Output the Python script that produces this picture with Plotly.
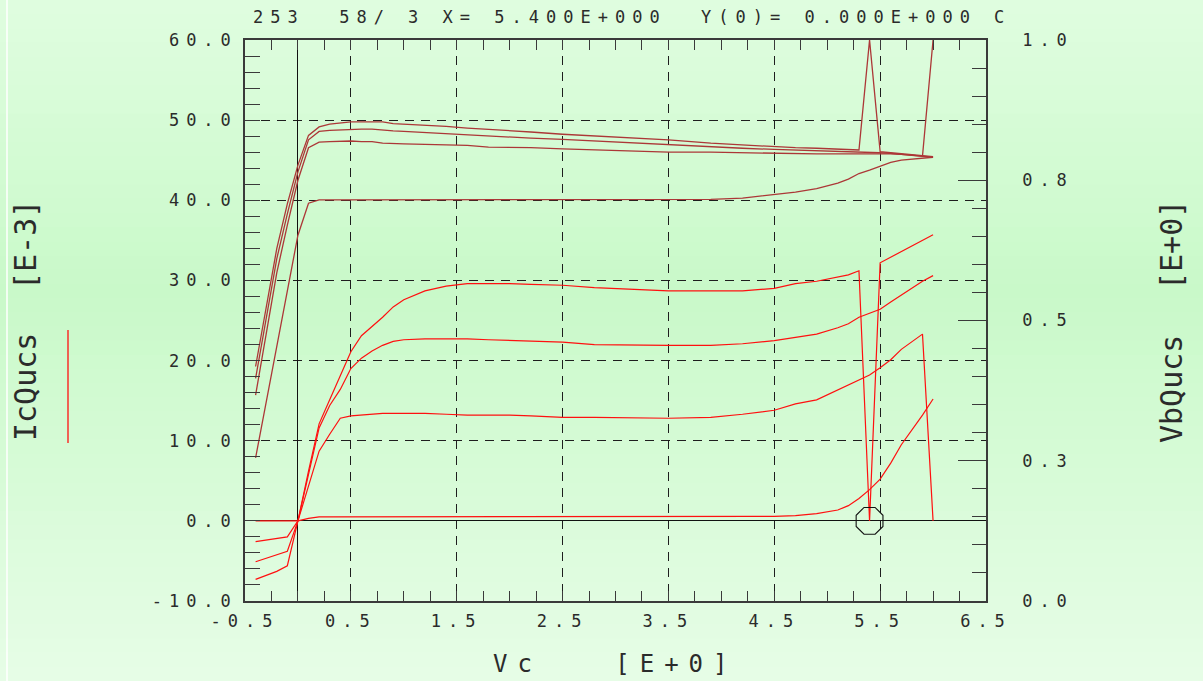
import plotly.graph_objects as go

# ---------------- data ----------------
vc = [-0.4, -0.2, -0.1, 0.0, 0.1, 0.2, 0.3, 0.4, 0.5, 0.6, 0.7, 0.8, 0.9, 1.0,
      1.2, 1.4, 1.6, 1.8, 2.0, 2.2, 2.5, 2.8, 3.2, 3.5, 3.9, 4.2,
      4.5, 4.7, 4.9, 5.1, 5.2, 5.3, 5.4, 5.5, 5.6, 5.7, 5.8, 5.9, 6.0]

# collector currents [mA] (left axis)
ic_0 = [0.0, 0.0, 0.0, 0.0, 0.3, 0.5, 0.5, 0.5, 0.5, 0.5, 0.5, 0.5, 0.5, 0.5,
        0.5, 0.5, 0.5, 0.5, 0.5, 0.5, 0.5, 0.5, 0.5, 0.5, 0.5, 0.5,
        0.55, 0.65, 0.9, 1.35, 1.9, 2.8, 3.9, 5.2, 7.2, 9.5, 11.3, 13.2, 15.2]
ic_1 = [-2.6, -2.2, -2.0, 0.0, 4.3, 8.7, 10.8, 12.8, 13.1, 13.2, 13.3, 13.4, 13.4, 13.4,
        13.4, 13.3, 13.2, 13.2, 13.2, 13.1, 12.9, 12.9, 12.8, 12.8, 12.9, 13.3,
        13.8, 14.6, 15.1, 16.3, 16.9, 17.6, 18.2, 19.1, 20.1, 21.4, 22.3, 23.3, 0.0]
ic_2 = [-5.1, -4.2, -3.8, 0.0, 6.0, 11.6, 14.4, 16.4, 19.0, 20.3, 21.2, 21.9, 22.4, 22.6,
        22.7, 22.7, 22.7, 22.6, 22.5, 22.4, 22.3, 22.0, 21.9, 21.9, 21.9, 22.1,
        22.5, 22.9, 23.3, 24.1, 24.6, 25.4, 25.9, 26.4, 27.3, 28.2, 29.1, 29.9, 30.6]
ic_3 = [-7.3, -6.3, -5.6, 0.0, 6.2, 12.1, 15.1, 18.2, 21.1, 23.1, 24.2, 25.4, 26.7, 27.6,
        28.7, 29.3, 29.6, 29.6, 29.6, 29.5, 29.4, 29.1, 28.9, 28.7, 28.7, 28.7,
        29.0, 29.6, 29.9, 30.4, 30.7, 31.2, 0.0, 32.2, 32.9, 33.5, 34.2, 34.9, 35.7]

# base voltages [V] (right axis)
vb_0 = [0.255, 0.455, 0.555, 0.652, 0.709, 0.715, 0.715, 0.715, 0.715, 0.715, 0.715, 0.715, 0.715, 0.715,
        0.715, 0.715, 0.715, 0.715, 0.715, 0.715, 0.715, 0.715, 0.715, 0.715, 0.716, 0.718,
        0.724, 0.729, 0.735, 0.745, 0.752, 0.762, 0.768, 0.775, 0.782, 0.786, 0.788, 0.790, 0.791]
vb_1 = [0.367, 0.585, 0.670, 0.750, 0.808, 0.818, 0.819, 0.820, 0.820, 0.819, 0.819, 0.816, 0.816, 0.815,
        0.814, 0.813, 0.812, 0.809, 0.809, 0.808, 0.806, 0.804, 0.802, 0.800, 0.800, 0.799,
        0.797, 0.797, 0.797, 0.797, 0.797, 0.797, 0.797, 0.798, 0.797, 0.796, 0.795, 0.793, 1.0]
vb_2 = [0.397, 0.610, 0.690, 0.765, 0.822, 0.837, 0.839, 0.840, 0.841, 0.841, 0.841, 0.839, 0.838, 0.837,
        0.835, 0.833, 0.830, 0.828, 0.826, 0.825, 0.823, 0.820, 0.816, 0.813, 0.810, 0.807,
        0.805, 0.804, 0.803, 0.802, 0.801, 0.800, 0.800, 0.799, 0.798, 0.796, 0.794, 0.793, 0.791]
vb_3 = [0.418, 0.628, 0.708, 0.777, 0.830, 0.845, 0.850, 0.852, 0.854, 0.854, 0.854, 0.854, 0.851, 0.850,
        0.849, 0.846, 0.843, 0.841, 0.839, 0.836, 0.832, 0.829, 0.825, 0.822, 0.816, 0.813,
        0.809, 0.808, 0.807, 0.806, 0.805, 0.804, 1.0, 0.801, 0.799, 0.797, 0.795, 0.793, 0.792]

# cursor
cursor_x = [5.4]
cursor_y = [0.0]

x_tick_vals = [-0.5, 0.5, 1.5, 2.5, 3.5, 4.5, 5.5, 6.5]
x_tick_text = ["-0.5", "0.5", "1.5", "2.5", "3.5", "4.5", "5.5", "6.5"]
y_tick_vals = [-10, 0, 10, 20, 30, 40, 50, 60]
y_tick_text = ["-10.0", "0.0", "10.0", "20.0", "30.0", "40.0", "50.0", "60.0"]
y2_tick_vals = [0.0, 0.25, 0.5, 0.75, 1.0]
y2_tick_text = ["0.0", "0.3", "0.5", "0.8", "1.0"]

title_text = "253  58/ 3 X= 5.400E+000  Y(0)= 0.000E+000 C"

# ---------------- styling ----------------
W, H = 1203, 681
L, R, T, B = 245, 986, 40, 601
PW, PH = R - L, B - T
FONT = "DejaVu Sans Mono"
TXT = "#2b2b2b"
AX = "#3a3a3a"
IC_COL = "#ff1010"
VB_COL = "rgb(172,55,55)"


def px2paper(px, py):
    return (px - L) / PW, (B - py) / PH


def spaced(s, sp):
    return f'<span style="letter-spacing:{sp}px">{s}</span>'


fig = go.Figure()

for ys in (ic_0, ic_1, ic_2, ic_3):
    fig.add_trace(go.Scatter(x=vc, y=ys, mode="lines", yaxis="y",
                             line=dict(color=IC_COL, width=1.2), showlegend=False,
                             hoverinfo="skip"))
for ys in (vb_0, vb_1, vb_2, vb_3):
    fig.add_trace(go.Scatter(x=vc, y=ys, mode="lines", yaxis="y2",
                             line=dict(color=VB_COL, width=1.3), showlegend=False,
                             hoverinfo="skip"))

fig.add_trace(go.Scatter(x=cursor_x, y=cursor_y, mode="markers", yaxis="y",
                         marker=dict(symbol="octagon-open", size=29,
                                     color="#111", line=dict(color="#111", width=1.1)),
                         showlegend=False, hoverinfo="skip", cliponaxis=False))

# ---------------- background gradient ----------------
shapes = []
stops = [(0, (224, 253, 224)), (290, (201, 249, 201)), (681, (231, 253, 231))]


def col_at(py):
    for (p0, c0), (p1, c1) in zip(stops[:-1], stops[1:]):
        if p0 <= py <= p1:
            t = (py - p0) / (p1 - p0)
            return tuple(round(a + (b - a) * t) for a, b in zip(c0, c1))
    return stops[-1][1]


n_strips = 48
for i in range(n_strips):
    py0 = H * i / n_strips
    py1 = H * (i + 1) / n_strips + 1
    c = col_at((py0 + py1) / 2)
    x0, y0 = px2paper(-2, py1)
    x1, y1 = px2paper(W + 2, py0)
    shapes.append(dict(type="rect", xref="paper", yref="paper", x0=x0, x1=x1,
                       y0=y0, y1=y1, line=dict(width=0),
                       fillcolor=f"rgb({c[0]},{c[1]},{c[2]})", layer="below"))

# thin white line at the far left
wx, wy0 = px2paper(7, 0)
_, wy1 = px2paper(7, H)
shapes.append(dict(type="line", xref="paper", yref="paper", x0=wx, x1=wx,
                   y0=wy1, y1=wy0, line=dict(color="white", width=1.5), layer="below"))
# red legend stroke next to IcQucs
lx, ly0 = px2paper(68, 443)
_, ly1 = px2paper(68, 330)
shapes.append(dict(type="line", xref="paper", yref="paper", x0=lx, x1=lx,
                   y0=ly0, y1=ly1, line=dict(color=IC_COL, width=1.3)))

# ---------------- annotations ----------------
ann = []
tx, ty = px2paper(251, 17)
ann.append(dict(text=spaced(title_text, 7), x=tx, y=ty, xref="paper", yref="paper",
                xanchor="left", yanchor="middle", showarrow=False,
                font=dict(family=FONT, size=17, color=TXT)))
for text, px, py in [("IcQucs", 25, 387), ("[E-3]", 25, 245),
                     ("VbQucs", 1171, 389), ("[E+0]", 1171, 245)]:
    ax_, ay_ = px2paper(px, py)
    ann.append(dict(text=text, x=ax_, y=ay_, xref="paper", yref="paper",
                    xanchor="center", yanchor="middle", textangle=-90, showarrow=False,
                    font=dict(family=FONT, size=30, color=TXT)))
bx, by = px2paper(491, 664)
ann.append(dict(text=spaced("Vc   [E+0]", 10), x=bx, y=by, xref="paper", yref="paper",
                xanchor="left", yanchor="middle", showarrow=False,
                font=dict(family=FONT, size=24, color=TXT)))

tickfont = dict(family=FONT, size=17, color=TXT)
GRID = "#1e1e1e"

fig.update_layout(
    width=W, height=H,
    margin=dict(l=L, r=W - R, t=T, b=H - B, pad=0),
    paper_bgcolor="rgb(212,250,212)",
    plot_bgcolor="rgba(0,0,0,0)",
    showlegend=False,
    shapes=shapes,
    annotations=ann,
    xaxis=dict(range=[-0.5, 6.5], tickmode="array", tickvals=x_tick_vals,
               ticktext=[spaced(t, 7) for t in x_tick_text], tickfont=tickfont,
               ticks="inside", ticklen=10, tickwidth=1, tickcolor=AX,
               minor=dict(tickmode="linear", tick0=0, dtick=0.25, ticks="inside",
                          ticklen=10, tickwidth=1, tickcolor=AX, showgrid=False),
               showline=True, linecolor=AX, linewidth=1.5, mirror="ticks",
               showgrid=True, gridcolor=GRID, gridwidth=1, griddash="9px,7px",
               zeroline=True, zerolinecolor="#111", zerolinewidth=1,
               ticklabelstandoff=4, fixedrange=True),
    yaxis=dict(range=[-10, 60], tickmode="array", tickvals=y_tick_vals,
               ticktext=[spaced(t, 7) for t in y_tick_text], tickfont=tickfont,
               ticks="inside", ticklen=15, tickwidth=1, tickcolor=AX,
               minor=dict(tickmode="linear", tick0=0, dtick=2, ticks="inside",
                          ticklen=15, tickwidth=1, tickcolor=AX, showgrid=False),
               showline=True, linecolor=AX, linewidth=1.5, mirror=True,
               showgrid=True, gridcolor=GRID, gridwidth=1, griddash="9px,7px",
               zeroline=True, zerolinecolor="#111", zerolinewidth=1,
               ticklabelstandoff=2, fixedrange=True),
    yaxis2=dict(range=[0, 1], overlaying="y", side="right", tickmode="array",
                tickvals=y2_tick_vals, ticktext=[spaced(t, 7) for t in y2_tick_text],
                tickfont=tickfont, ticks="inside", ticklen=28, tickwidth=1, tickcolor=AX,
                minor=dict(tickmode="linear", tick0=0, dtick=0.05, ticks="inside",
                           ticklen=14, tickwidth=1, tickcolor=AX, showgrid=False),
                showline=True, linecolor=AX, linewidth=1.5,
                showgrid=False, zeroline=False, ticklabelstandoff=31, fixedrange=True),
)

fig.write_html("out.html")
